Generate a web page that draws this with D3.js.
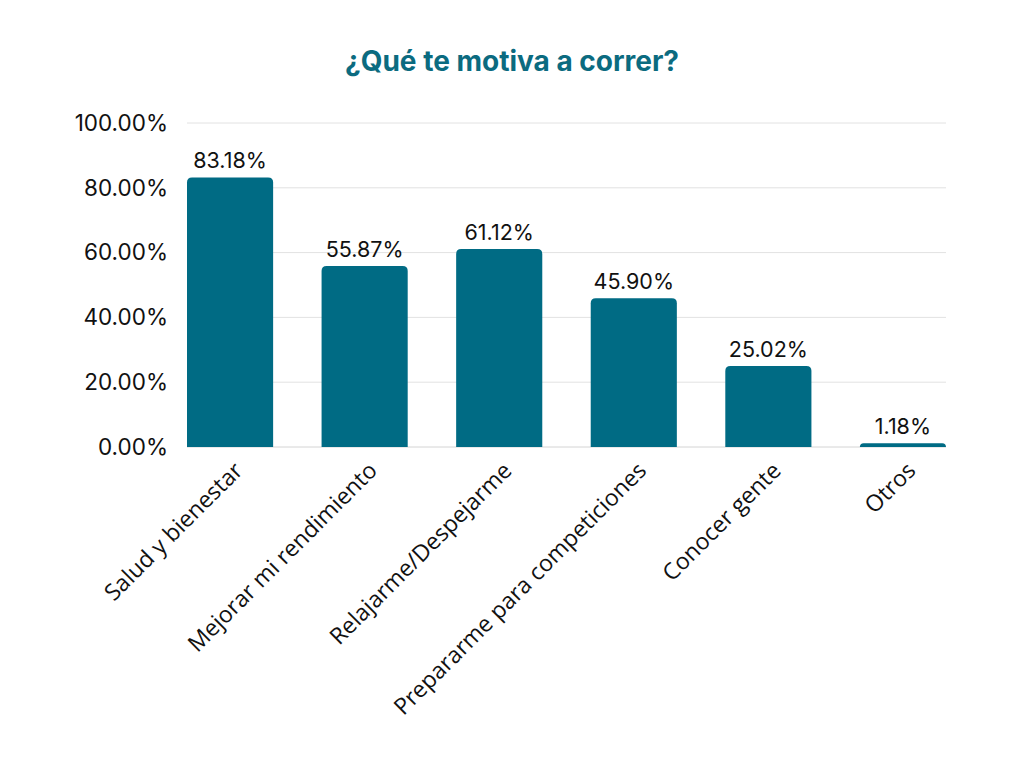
<!DOCTYPE html>
<html>
<head>
<meta charset="utf-8">
<script src="https://cdn.jsdelivr.net/npm/d3@7"></script>
<style>
  body { margin: 0; background: #fff; }
</style>
</head>
<body>
<div id="chart"></div>
<script>
// data
const categories = [
  "Salud y bienestar",
  "Mejorar mi rendimiento",
  "Relajarme/Despejarme",
  "Prepararme para competiciones",
  "Conocer gente",
  "Otros"
];
const values = [83.18, 55.87, 61.12, 45.9, 25.02, 1.18];
const yTicks = [0, 20, 40, 60, 80, 100];

const W = 1024, H = 768;
const barColor = "#006b84";

let svg = d3.select("#chart").append("svg")
  .attr("width", W)
  .attr("height", H);

// title
svg.append("text")
  .attr("x", 512)
  .attr("y", 71)
  .attr("text-anchor", "middle")
  .style("font-family", "Inter")
  .style("font-weight", "700")
  .style("font-size", "28px")
  .style("fill", "#0b6b80")
  .text("¿Qué te motiva a correr?");

let x = d3.scaleBand().domain(categories).range([187, 946]).paddingInner(0.36).paddingOuter(0);
let y = d3.scaleLinear().domain([0, 100]).range([447, 123]);

// gridlines
svg.append("g")
  .selectAll("line")
  .data(yTicks)
  .enter()
  .append("line")
  .attr("x1", 187)
  .attr("x2", 946)
  .attr("y1", d => y(d))
  .attr("y2", d => y(d))
  .attr("stroke", d => d === 0 ? "#d4d4d4" : "#e2e2e2")
  .attr("stroke-width", 1);

// y axis labels
const yAxis = svg.append("g")
  .attr("transform", "translate(187,0)")
  .call(d3.axisLeft(y).tickValues(yTicks).tickSize(0).tickPadding(19).tickFormat(d => d.toFixed(2) + "%"));
yAxis.select(".domain").remove();
yAxis.selectAll("text")
  .style("font-family", "Inter")
  .style("font-size", "22.5px")
  .style("fill", "#111");

// bars with rounded top corners
const r = 5;
function barPath(d, i) {
  const x0 = x(categories[i]), w = x.bandwidth();
  const y0 = y(d), yb = y(0);
  const rr = Math.min(r, (yb - y0));
  return "M" + x0 + "," + yb +
    "V" + (y0 + rr) +
    "Q" + x0 + "," + y0 + " " + (x0 + rr) + "," + y0 +
    "H" + (x0 + w - rr) +
    "Q" + (x0 + w) + "," + y0 + " " + (x0 + w) + "," + (y0 + rr) +
    "V" + yb + "Z";
}
svg.append("g")
  .selectAll("path")
  .data(values)
  .enter()
  .append("path")
  .attr("d", barPath)
  .attr("fill", barColor);

// value labels
svg.append("g")
  .selectAll("text")
  .data(values)
  .enter()
  .append("text")
  .attr("x", (d, i) => x(categories[i]) + x.bandwidth() / 2)
  .attr("y", d => y(d) - 9)
  .attr("text-anchor", "middle")
  .style("font-family", "Inter")
  .style("font-size", "21.5px")
  .style("fill", "#111")
  .text(d => d.toFixed(2) + "%");

// x labels, rotated
svg.append("g")
  .selectAll("text")
  .data(categories)
  .enter()
  .append("text")
  .attr("transform", d => "translate(" + (x(d) + x.bandwidth() / 2 + 14) + ",472) rotate(-45)")
  .attr("text-anchor", "end")
  .style("font-family", "Open Sans")
  .style("font-size", "23px")
  .style("fill", "#111")
  .text(d => d);
</script>
</body>
</html>
